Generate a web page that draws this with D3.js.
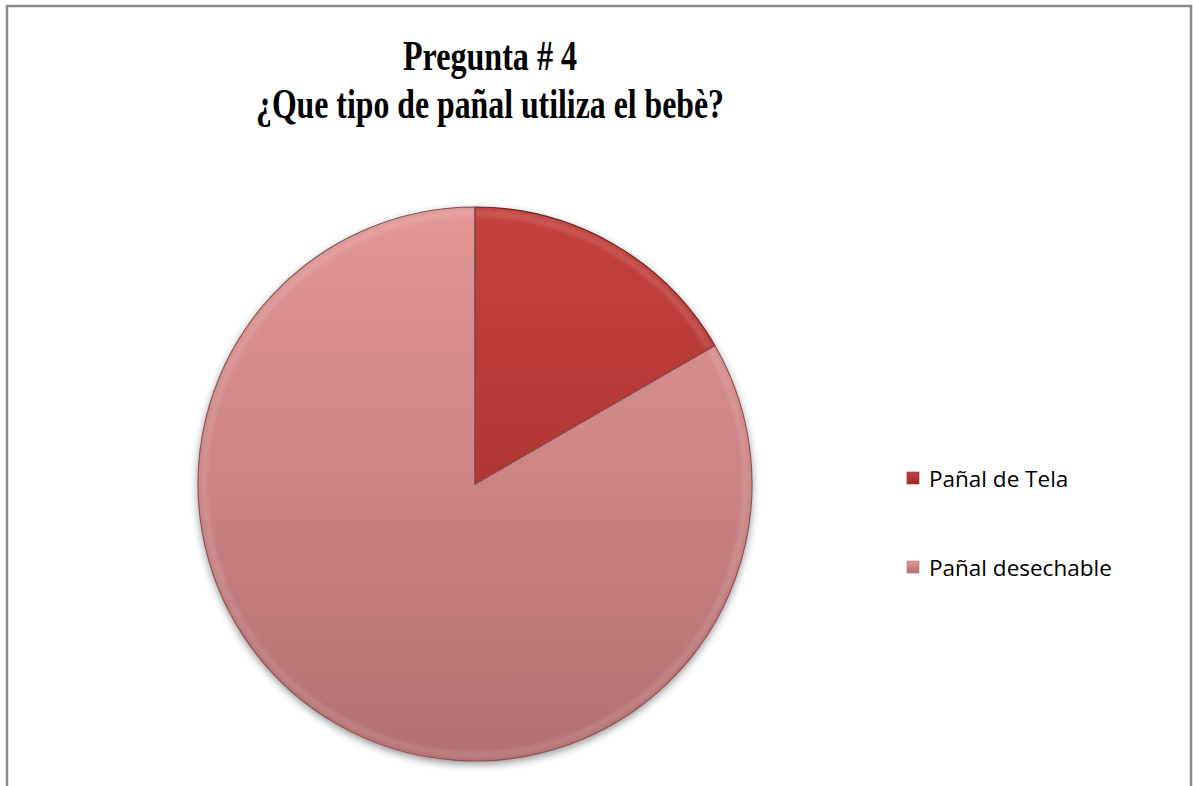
<!DOCTYPE html>
<html><head><meta charset="utf-8">
<script src="https://cdn.jsdelivr.net/npm/d3@7"></script>
<style>body{margin:0;background:#fff}svg{display:block}</style>
</head><body>
<script>
const categories = ["Pañal de Tela", "Pañal desechable"];
const values = [10, 50];
const titleLines = ["Pregunta # 4", "¿Que tipo de pañal utiliza el bebè?"];
const titleWidths = [174, 468];
const topColors = ["#c4423e", "#e39797"];
const bottomColors = ["#9a2a2a", "#b26f71"];

const W = 1193, H = 786;
const svg = d3.select("body").append("svg").attr("width", W).attr("height", H);
const defs = svg.append("defs");

// frame
svg.append("rect").attr("x", 7).attr("y", 6).attr("width", 1184).attr("height", 800)
  .attr("fill", "#fff").attr("stroke", "#898989").attr("stroke-width", 2.5);

// title
const title = svg.append("text").attr("text-anchor", "middle")
  .attr("font-family", "Liberation Serif, Times New Roman, serif").attr("font-weight", "bold")
  .attr("font-size", 42).attr("fill", "#000");
titleLines.forEach((t, i) => title.append("tspan").attr("x", 490).attr("y", 70 + i * 48)
  .attr("textLength", titleWidths[i]).attr("lengthAdjust", "spacingAndGlyphs").text(t));

const cx = 475, cy = 484, R = 277;

// gradients (local coordinates of pie group)
categories.forEach((c, i) => {
  const g = defs.append("linearGradient").attr("id", "g" + i)
    .attr("gradientUnits", "userSpaceOnUse")
    .attr("x1", 0).attr("y1", -R).attr("x2", 0).attr("y2", R);
  g.append("stop").attr("offset", "0%").attr("stop-color", topColors[i]);
  g.append("stop").attr("offset", "100%").attr("stop-color", bottomColors[i]);
  const lgg = defs.append("linearGradient").attr("id", "lg" + i).attr("x1", 0).attr("y1", 0).attr("x2", 0).attr("y2", 1);
  lgg.append("stop").attr("offset", "0%").attr("stop-color", topColors[i]);
  lgg.append("stop").attr("offset", "100%").attr("stop-color", bottomColors[i]);
});
const f = defs.append("filter").attr("id", "sh").attr("x", "-20%").attr("y", "-20%").attr("width", "140%").attr("height", "140%");
f.append("feGaussianBlur").attr("in", "SourceAlpha").attr("stdDeviation", 4);
f.append("feOffset").attr("dx", 0).attr("dy", 3).attr("result", "b");
f.append("feComponentTransfer").append("feFuncA").attr("type", "linear").attr("slope", 0.45);
const m = f.append("feMerge"); m.append("feMergeNode"); m.append("feMergeNode").attr("in", "SourceGraphic");
const blur = defs.append("filter").attr("id", "bl").attr("x", "-10%").attr("y", "-10%").attr("width", "120%").attr("height", "120%");
blur.append("feGaussianBlur").attr("stdDeviation", 2);

const pie = d3.pie().sort(null).value(d => d)(values);
const arc = d3.arc().innerRadius(0).outerRadius(R);
const g = svg.append("g").attr("transform", `translate(${cx},${cy})`);
g.append("circle").attr("r", R).attr("fill", "#b27274").attr("filter", "url(#sh)");
pie.forEach((p, i) => {
  g.append("path").attr("d", arc(p)).attr("fill", `url(#g${i})`);
});
// bevel highlights
const bevel = d3.arc().innerRadius(R - 9).outerRadius(R - 3);
pie.forEach((p, i) => {
  const clip = defs.append("clipPath").attr("id", "c" + i);
  clip.append("path").attr("d", arc(p));
  g.append("path").attr("d", bevel(p)).attr("fill", "#fff").attr("opacity", 0.13)
    .attr("filter", "url(#bl)").attr("clip-path", `url(#c${i})`);
});
pie.forEach((p, i) => {
  g.append("path").attr("d", arc(p)).attr("fill", "none").attr("stroke", i === 0 ? "#7a1f1f" : "#8a5557")
    .attr("stroke-width", 1.1).attr("stroke-linejoin", "round");
});

// legend
const lg = svg.append("g");
categories.forEach((c, i) => {
  const y = 478 + i * 89;
  lg.append("rect").attr("x", 907).attr("y", y - 6).attr("width", 12).attr("height", 12)
    .attr("fill", `url(#lg${i})`).attr("stroke", bottomColors[i]).attr("stroke-width", 0.6);
  lg.append("text").attr("x", 929).attr("y", y + 9).attr("font-family", "Open Sans, Noto Sans, sans-serif")
    .attr("font-size", 22.5).attr("fill", "#000").text(c);
});
</script>
</body></html>
